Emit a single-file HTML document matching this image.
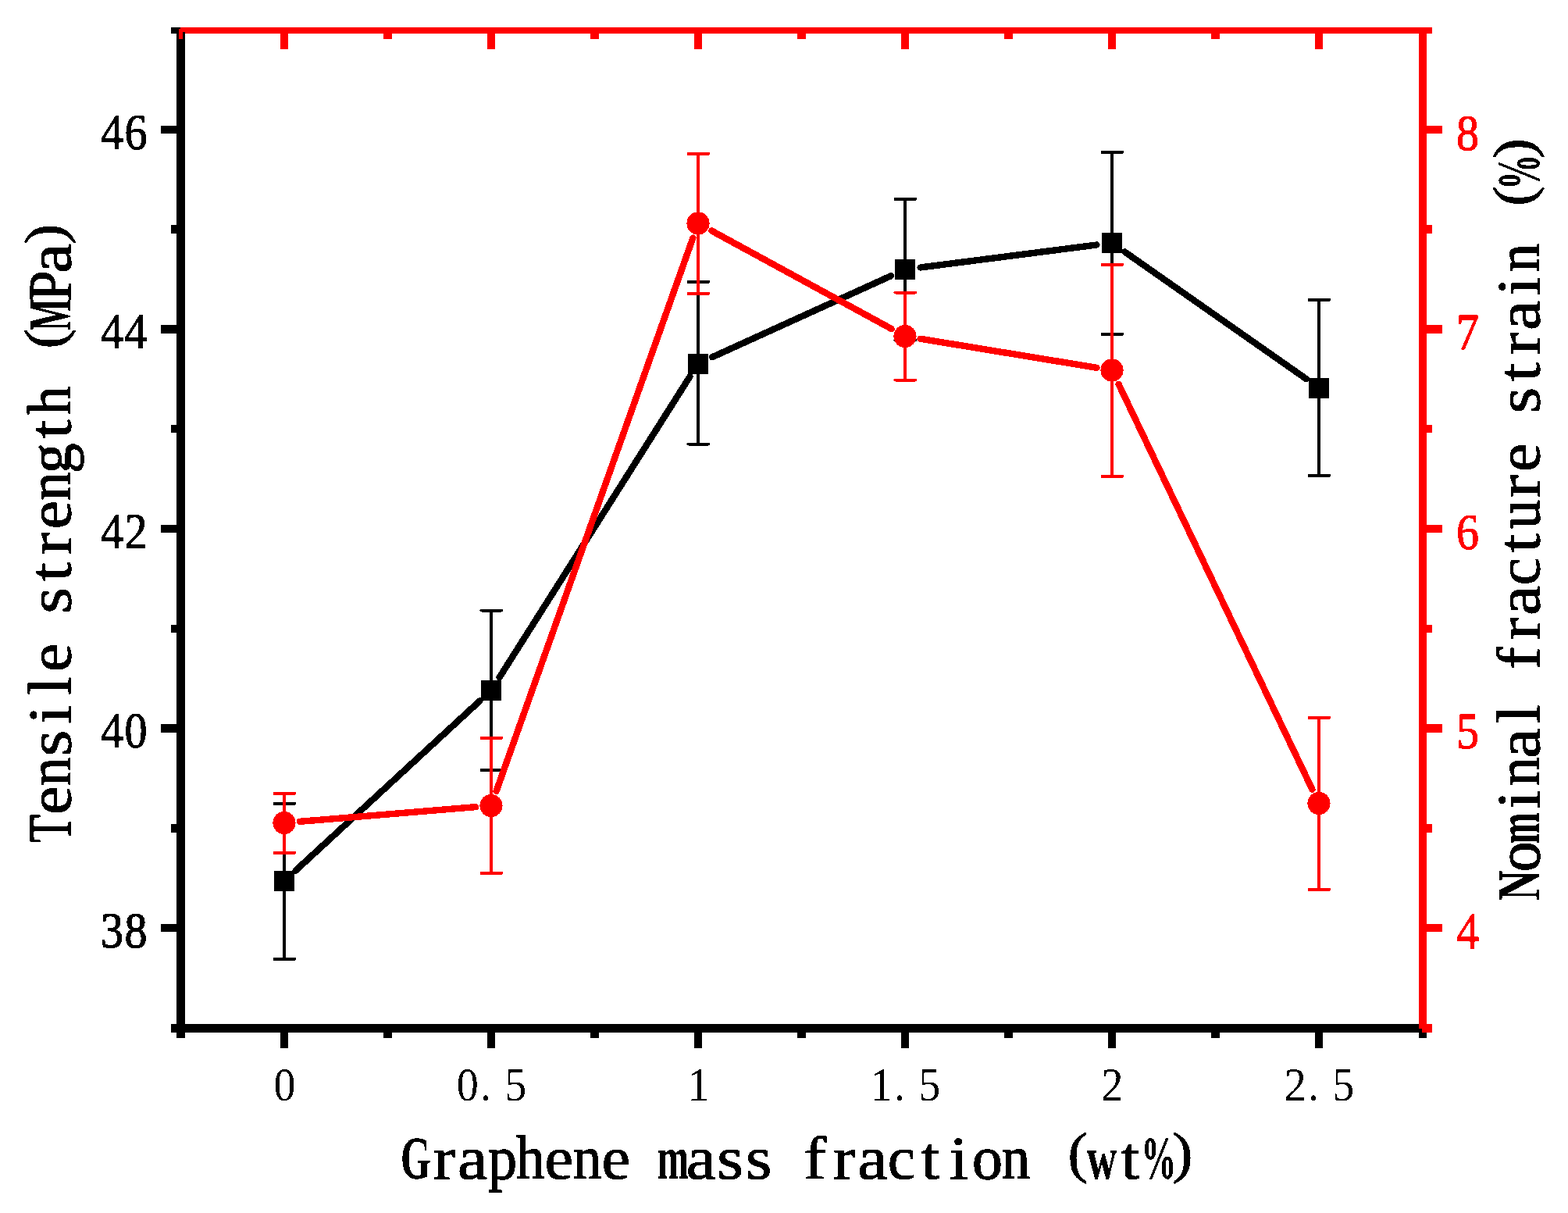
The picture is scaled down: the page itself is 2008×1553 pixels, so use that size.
<!DOCTYPE html>
<html lang="en">
<head>
<meta charset="utf-8">
<title>Tensile strength (MPa) and Nominal fracture strain (%) vs Graphene mass fraction (wt%)</title>
<style>
html,body{margin:0;padding:0;background:#fff;}
body{width:2008px;height:1553px;overflow:hidden;}
svg{display:block;}
text{white-space:pre;font-kerning:none;}
</style>
</head>
<body>
<svg width="2008" height="1553" viewBox="0 0 2008 1553">
<defs>
<filter id="crisp" x="-5%" y="-5%" width="110%" height="110%" color-interpolation-filters="sRGB">
<feComponentTransfer><feFuncA type="discrete" tableValues="0 1"/></feComponentTransfer>
</filter>
</defs>
<rect x="0" y="0" width="2008" height="1553" fill="#ffffff"/>
<g id="tensile-strength" fill="#000000" stroke="none" shape-rendering="crispEdges">
<rect x="362" y="1029" width="4" height="199"/>
<rect x="349.5" y="1027" width="29.5" height="4" rx="2" ry="2"/>
<rect x="349.5" y="1226" width="29.5" height="4" rx="2" ry="2"/>
<rect x="627" y="781.5" width="4" height="204.5"/>
<rect x="614.5" y="779.5" width="29.5" height="4" rx="2" ry="2"/>
<rect x="614.5" y="984" width="29.5" height="4" rx="2" ry="2"/>
<rect x="892" y="361" width="4" height="207.5"/>
<rect x="879.5" y="359" width="29.5" height="4" rx="2" ry="2"/>
<rect x="879.5" y="566.5" width="29.5" height="4" rx="2" ry="2"/>
<rect x="1157" y="255" width="4" height="180.5"/>
<rect x="1144.5" y="253" width="29.5" height="4" rx="2" ry="2"/>
<rect x="1144.5" y="433.5" width="29.5" height="4" rx="2" ry="2"/>
<rect x="1422" y="195" width="4" height="233"/>
<rect x="1409.5" y="193" width="29.5" height="4" rx="2" ry="2"/>
<rect x="1409.5" y="426" width="29.5" height="4" rx="2" ry="2"/>
<rect x="1687" y="384" width="4" height="225"/>
<rect x="1674.5" y="382" width="29.5" height="4" rx="2" ry="2"/>
<rect x="1674.5" y="607" width="29.5" height="4" rx="2" ry="2"/>
<line x1="378.57" y1="1114.59" x2="614.43" y2="897.41" stroke="#000000" stroke-width="8.4" stroke-linecap="round"/>
<line x1="639.59" y1="867.27" x2="883.41" y2="482.23" stroke="#000000" stroke-width="8.4" stroke-linecap="round"/>
<line x1="912.02" y1="457.30" x2="1140.98" y2="353.20" stroke="#000000" stroke-width="8.4" stroke-linecap="round"/>
<line x1="1178.64" y1="342.48" x2="1404.36" y2="313.52" stroke="#000000" stroke-width="8.4" stroke-linecap="round"/>
<line x1="1440.22" y1="322.35" x2="1672.78" y2="485.15" stroke="#000000" stroke-width="8.4" stroke-linecap="round"/>
<rect x="351" y="1115" width="26" height="26"/>
<rect x="616" y="871" width="26" height="26"/>
<rect x="881" y="452.5" width="26" height="26"/>
<rect x="1146" y="332" width="26" height="26"/>
<rect x="1411" y="298" width="26" height="26"/>
<rect x="1676" y="483.5" width="26" height="26"/>
</g>
<g id="fracture-strain" fill="#ff0000" stroke="none" shape-rendering="crispEdges">
<rect x="362" y="1016" width="4" height="76"/>
<rect x="349.5" y="1014" width="29.5" height="4" rx="2" ry="2"/>
<rect x="349.5" y="1090" width="29.5" height="4" rx="2" ry="2"/>
<rect x="627" y="945" width="4" height="173"/>
<rect x="614.5" y="943" width="29.5" height="4" rx="2" ry="2"/>
<rect x="614.5" y="1116" width="29.5" height="4" rx="2" ry="2"/>
<rect x="892" y="197" width="4" height="179"/>
<rect x="879.5" y="195" width="29.5" height="4" rx="2" ry="2"/>
<rect x="879.5" y="374" width="29.5" height="4" rx="2" ry="2"/>
<rect x="1157" y="374.5" width="4" height="112"/>
<rect x="1144.5" y="372.5" width="29.5" height="4" rx="2" ry="2"/>
<rect x="1144.5" y="484.5" width="29.5" height="4" rx="2" ry="2"/>
<rect x="1422" y="339" width="4" height="271"/>
<rect x="1409.5" y="337" width="29.5" height="4" rx="2" ry="2"/>
<rect x="1409.5" y="608" width="29.5" height="4" rx="2" ry="2"/>
<rect x="1687" y="919" width="4" height="220"/>
<rect x="1674.5" y="917" width="29.5" height="4" rx="2" ry="2"/>
<rect x="1674.5" y="1137" width="29.5" height="4" rx="2" ry="2"/>
<line x1="383.73" y1="1051.86" x2="609.27" y2="1033.14" stroke="#ff0000" stroke-width="8.4" stroke-linecap="round"/>
<line x1="635.63" y1="1012.84" x2="887.37" y2="304.66" stroke="#ff0000" stroke-width="8.4" stroke-linecap="round"/>
<line x1="911.38" y1="295.48" x2="1141.62" y2="421.02" stroke="#ff0000" stroke-width="8.4" stroke-linecap="round"/>
<line x1="1178.54" y1="433.71" x2="1404.46" y2="470.79" stroke="#ff0000" stroke-width="8.4" stroke-linecap="round"/>
<line x1="1432.54" y1="491.86" x2="1680.46" y2="1010.64" stroke="#ff0000" stroke-width="8.4" stroke-linecap="round"/>
<circle cx="364" cy="1053.5" r="14.6"/>
<circle cx="629" cy="1031.5" r="14.6"/>
<circle cx="894" cy="286" r="14.6"/>
<circle cx="1159" cy="430.5" r="14.6"/>
<circle cx="1424" cy="474" r="14.6"/>
<circle cx="1689" cy="1028.5" r="14.6"/>
</g>
<g id="axes-black" fill="#000000" shape-rendering="crispEdges">
<rect x="226" y="1311" width="1601" height="11"/>
<rect x="226" y="35" width="11" height="1294"/>
<rect x="206" y="161" width="21" height="10"/>
<rect x="206" y="416" width="21" height="11"/>
<rect x="206" y="672" width="21" height="10"/>
<rect x="206" y="927" width="21" height="11"/>
<rect x="206" y="1183" width="21" height="10"/>
<rect x="219" y="288" width="8" height="11"/>
<rect x="219" y="544" width="8" height="10"/>
<rect x="219" y="800" width="8" height="10"/>
<rect x="219" y="1055" width="8" height="11"/>
<rect x="219" y="35" width="12" height="8"/>
<rect x="219" y="1311" width="8" height="11"/>
<rect x="359" y="1321" width="10" height="21"/>
<rect x="624" y="1321" width="10" height="21"/>
<rect x="889" y="1321" width="10" height="21"/>
<rect x="1154" y="1321" width="10" height="21"/>
<rect x="1419" y="1321" width="10" height="21"/>
<rect x="1684" y="1321" width="10" height="21"/>
<rect x="491" y="1321" width="11" height="8"/>
<rect x="756" y="1321" width="11" height="8"/>
<rect x="1021" y="1321" width="11" height="8"/>
<rect x="1286" y="1321" width="11" height="8"/>
<rect x="1551" y="1321" width="11" height="8"/>
<rect x="1817" y="1321" width="10" height="8"/>
</g>
<g id="axes-red" fill="#ff0000" shape-rendering="crispEdges">
<rect x="229" y="35" width="1605" height="8"/>
<rect x="229" y="37" width="5" height="13"/>
<rect x="359" y="42" width="10" height="21"/>
<rect x="624" y="42" width="10" height="21"/>
<rect x="889" y="42" width="10" height="21"/>
<rect x="1154" y="42" width="10" height="21"/>
<rect x="1419" y="42" width="10" height="21"/>
<rect x="1684" y="42" width="10" height="21"/>
<rect x="491" y="42" width="11" height="8"/>
<rect x="756" y="42" width="11" height="8"/>
<rect x="1021" y="42" width="11" height="8"/>
<rect x="1286" y="42" width="11" height="8"/>
<rect x="1551" y="42" width="11" height="8"/>
<rect x="1817" y="35" width="10" height="1287"/>
<rect x="1826" y="161" width="21" height="10"/>
<rect x="1826" y="416" width="21" height="11"/>
<rect x="1826" y="672" width="21" height="10"/>
<rect x="1826" y="927" width="21" height="11"/>
<rect x="1826" y="1183" width="21" height="10"/>
<rect x="1826" y="288" width="8" height="11"/>
<rect x="1826" y="544" width="8" height="10"/>
<rect x="1826" y="800" width="8" height="10"/>
<rect x="1826" y="1055" width="8" height="11"/>
<rect x="1826" y="1311" width="8" height="11"/>
</g>
<g id="axis-joins" fill="#000000" shape-rendering="crispEdges">
<rect x="229" y="35" width="2" height="2"/>
<rect x="234" y="41" width="3" height="2"/>
<rect x="1817" y="1317" width="4" height="5"/>
</g>
<g id="labels" filter="url(#crisp)">
<g id="ticks-left" font-family="'Liberation Serif', serif" font-size="65" text-anchor="middle" fill="#000000" stroke="#000000" stroke-width="1.2" stroke-linejoin="round">
<text transform="translate(158.8,190.9) scale(0.895,1)" x="-17.1 17.1" y="0" font-size="64.8">46</text>
<text transform="translate(158.8,445.9) scale(0.895,1)" x="-17.1 17.1" y="0" font-size="64.8">44</text>
<text transform="translate(158.8,701.9) scale(0.895,1)" x="-17.1 17.1" y="0" font-size="64.8">42</text>
<text transform="translate(158.8,956.9) scale(0.895,1)" x="-17.1 17.1" y="0" font-size="64.8">40</text>
<text transform="translate(158.8,1212.9) scale(0.895,1)" x="-17.1 17.1" y="0" font-size="64.8">38</text>
</g>
<g id="ticks-right" font-family="'Liberation Serif', serif" font-size="65" text-anchor="middle" fill="#ff0000" stroke="#ff0000" stroke-width="1.2" stroke-linejoin="round">
<text transform="translate(1879.4,191.6) scale(0.895,1)" x="0.0" y="0" font-size="64.8">8</text>
<text transform="translate(1879.4,446.6) scale(0.895,1)" x="0.0" y="0" font-size="64.8">7</text>
<text transform="translate(1879.4,702.6) scale(0.895,1)" x="0.0" y="0" font-size="64.8">6</text>
<text transform="translate(1879.4,957.6) scale(0.895,1)" x="0.0" y="0" font-size="64.8">5</text>
<text transform="translate(1879.4,1213.6) scale(0.895,1)" x="0.0" y="0" font-size="64.8">4</text>
</g>
<g id="ticks-bottom" font-family="'Liberation Serif', serif" font-size="61" text-anchor="middle" fill="#000000">
<text transform="translate(364.5,1409.2) scale(0.92,1)" x="0.0" y="0">0</text>
<text transform="translate(629.5,1409.2) scale(0.92,1)" x="-33.4 -8.2 33.4" y="0">0.5</text>
<text transform="translate(894.5,1409.2) scale(0.92,1)" x="0.0" y="0">1</text>
<text transform="translate(1159.5,1409.2) scale(0.92,1)" x="-33.4 -8.2 33.4" y="0">1.5</text>
<text transform="translate(1424.5,1409.2) scale(0.92,1)" x="0.0" y="0">2</text>
<text transform="translate(1689.5,1409.2) scale(0.92,1)" x="-33.4 -8.2 33.4" y="0">2.5</text>
</g>
<text id="x-title" aria-label="Graphene mass fraction (wt%)" transform="translate(514.2,1508.8)" y="0" font-family="'Liberation Serif', serif" font-size="77.5" fill="#000000" stroke="#000000" stroke-width="1.3" stroke-linejoin="round" xml:space="preserve"><tspan x="-1.15" font-weight="bold" stroke-width="0.3" textLength="38.80" lengthAdjust="spacingAndGlyphs">G</tspan><tspan x="40.43" stroke-width="1" textLength="28.91" lengthAdjust="spacingAndGlyphs">r</tspan><tspan x="71.92" stroke-width="1" textLength="38.20" lengthAdjust="spacingAndGlyphs">a</tspan><tspan x="110.83" textLength="37.09" lengthAdjust="spacingAndGlyphs">p</tspan><tspan x="146.89" textLength="36.68" lengthAdjust="spacingAndGlyphs">h</tspan><tspan x="183.22" stroke-width="1" textLength="36.58" lengthAdjust="spacingAndGlyphs">e</tspan><tspan x="219.80" textLength="36.37" lengthAdjust="spacingAndGlyphs">n</tspan><tspan x="256.38" stroke-width="1" textLength="36.58" lengthAdjust="spacingAndGlyphs">e</tspan> <tspan x="327.72" font-weight="bold" stroke-width="0.3" textLength="40.12" lengthAdjust="spacingAndGlyphs">m</tspan><tspan x="364.56" stroke-width="1" textLength="38.20" lengthAdjust="spacingAndGlyphs">a</tspan><tspan x="404.07" stroke-width="1" textLength="33.78" lengthAdjust="spacingAndGlyphs">s</tspan><tspan x="440.65" stroke-width="1" textLength="33.78" lengthAdjust="spacingAndGlyphs">s</tspan> <tspan x="515.12" stroke-width="1" textLength="28.91" lengthAdjust="spacingAndGlyphs">f</tspan><tspan x="552.55" stroke-width="1" textLength="28.91" lengthAdjust="spacingAndGlyphs">r</tspan><tspan x="584.04" stroke-width="1" textLength="38.20" lengthAdjust="spacingAndGlyphs">a</tspan><tspan x="622.60" stroke-width="1" textLength="35.51" lengthAdjust="spacingAndGlyphs">c</tspan><tspan x="665.00" stroke-width="1" textLength="24.12" lengthAdjust="spacingAndGlyphs">t</tspan><tspan x="701.67" stroke-width="1" textLength="24.12" lengthAdjust="spacingAndGlyphs">i</tspan><tspan x="730.92" textLength="38.93" lengthAdjust="spacingAndGlyphs">o</tspan><tspan x="768.50" textLength="36.37" lengthAdjust="spacingAndGlyphs">n</tspan> <tspan x="853.24" y="-8.6" font-size="72" stroke-width="1" textLength="25.28" lengthAdjust="spacingAndGlyphs">(</tspan><tspan x="877.55" y="0" font-weight="bold" stroke-width="0.3" textLength="38.44" lengthAdjust="spacingAndGlyphs">w</tspan><tspan x="921.06" stroke-width="1" textLength="24.12" lengthAdjust="spacingAndGlyphs">t</tspan><tspan x="947.28" font-weight="bold" stroke-width="0.3" textLength="44.79" lengthAdjust="spacingAndGlyphs">%</tspan><tspan x="987.24" y="-8.6" font-size="72" stroke-width="1" textLength="25.93" lengthAdjust="spacingAndGlyphs">)</tspan></text>
<text id="y-title-left" aria-label="Tensile strength (MPa)" transform="translate(90.3,1079.6) rotate(-90)" y="0" font-family="'Liberation Serif', serif" font-size="77.5" fill="#000000" stroke="#000000" stroke-width="1.3" stroke-linejoin="round" xml:space="preserve"><tspan x="0.71" textLength="36.05" lengthAdjust="spacingAndGlyphs">T</tspan><tspan x="36.86" stroke-width="1" textLength="36.58" lengthAdjust="spacingAndGlyphs">e</tspan><tspan x="73.41" textLength="36.37" lengthAdjust="spacingAndGlyphs">n</tspan><tspan x="111.32" stroke-width="1" textLength="33.78" lengthAdjust="spacingAndGlyphs">s</tspan><tspan x="152.83" stroke-width="1" textLength="24.12" lengthAdjust="spacingAndGlyphs">i</tspan><tspan x="189.47" stroke-width="1" textLength="24.12" lengthAdjust="spacingAndGlyphs">l</tspan><tspan x="219.61" stroke-width="1" textLength="36.58" lengthAdjust="spacingAndGlyphs">e</tspan> <tspan x="294.07" stroke-width="1" textLength="33.78" lengthAdjust="spacingAndGlyphs">s</tspan><tspan x="335.50" stroke-width="1" textLength="24.12" lengthAdjust="spacingAndGlyphs">t</tspan><tspan x="369.34" stroke-width="1" textLength="28.91" lengthAdjust="spacingAndGlyphs">r</tspan><tspan x="402.36" stroke-width="1" textLength="36.58" lengthAdjust="spacingAndGlyphs">e</tspan><tspan x="438.91" textLength="36.37" lengthAdjust="spacingAndGlyphs">n</tspan><tspan x="473.59" textLength="38.81" lengthAdjust="spacingAndGlyphs">g</tspan><tspan x="518.25" stroke-width="1" textLength="24.12" lengthAdjust="spacingAndGlyphs">t</tspan><tspan x="548.81" textLength="36.68" lengthAdjust="spacingAndGlyphs">h</tspan> <tspan x="633.24" y="-8.6" font-size="72" stroke-width="1" textLength="25.28" lengthAdjust="spacingAndGlyphs">(</tspan><tspan x="656.43" y="0" font-weight="bold" stroke-width="0.3" textLength="40.99" lengthAdjust="spacingAndGlyphs">M</tspan><tspan x="694.21" textLength="38.80" lengthAdjust="spacingAndGlyphs">P</tspan><tspan x="729.75" stroke-width="1" textLength="38.20" lengthAdjust="spacingAndGlyphs">a</tspan><tspan x="767.12" y="-8.6" font-size="72" stroke-width="1" textLength="25.93" lengthAdjust="spacingAndGlyphs">)</tspan></text>
<text id="y-title-right" aria-label="Nominal fracture strain (%)" transform="translate(1971.2,1152) rotate(-90)" y="0" font-family="'Liberation Serif', serif" font-size="77.5" fill="#000000" stroke="#000000" stroke-width="1.3" stroke-linejoin="round" xml:space="preserve"><tspan x="-0.76" font-weight="bold" stroke-width="0.3" textLength="38.73" lengthAdjust="spacingAndGlyphs">N</tspan><tspan x="35.81" textLength="38.93" lengthAdjust="spacingAndGlyphs">o</tspan><tspan x="71.51" font-weight="bold" stroke-width="0.3" textLength="40.12" lengthAdjust="spacingAndGlyphs">m</tspan><tspan x="116.18" stroke-width="1" textLength="24.12" lengthAdjust="spacingAndGlyphs">i</tspan><tspan x="146.37" textLength="36.37" lengthAdjust="spacingAndGlyphs">n</tspan><tspan x="181.33" stroke-width="1" textLength="38.20" lengthAdjust="spacingAndGlyphs">a</tspan><tspan x="225.82" stroke-width="1" textLength="24.12" lengthAdjust="spacingAndGlyphs">l</tspan> <tspan x="295.13" stroke-width="1" textLength="28.91" lengthAdjust="spacingAndGlyphs">f</tspan><tspan x="332.50" stroke-width="1" textLength="28.91" lengthAdjust="spacingAndGlyphs">r</tspan><tspan x="363.93" stroke-width="1" textLength="38.20" lengthAdjust="spacingAndGlyphs">a</tspan><tspan x="402.43" stroke-width="1" textLength="35.51" lengthAdjust="spacingAndGlyphs">c</tspan><tspan x="444.77" stroke-width="1" textLength="24.12" lengthAdjust="spacingAndGlyphs">t</tspan><tspan x="475.04" textLength="37.26" lengthAdjust="spacingAndGlyphs">u</tspan><tspan x="515.10" stroke-width="1" textLength="28.91" lengthAdjust="spacingAndGlyphs">r</tspan><tspan x="548.09" stroke-width="1" textLength="36.58" lengthAdjust="spacingAndGlyphs">e</tspan> <tspan x="622.50" stroke-width="1" textLength="33.78" lengthAdjust="spacingAndGlyphs">s</tspan><tspan x="663.89" stroke-width="1" textLength="24.12" lengthAdjust="spacingAndGlyphs">t</tspan><tspan x="697.70" stroke-width="1" textLength="28.91" lengthAdjust="spacingAndGlyphs">r</tspan><tspan x="729.13" stroke-width="1" textLength="38.20" lengthAdjust="spacingAndGlyphs">a</tspan><tspan x="773.54" stroke-width="1" textLength="24.12" lengthAdjust="spacingAndGlyphs">i</tspan><tspan x="803.73" textLength="36.37" lengthAdjust="spacingAndGlyphs">n</tspan> <tspan x="888.35" y="-8.6" font-size="72" stroke-width="1" textLength="25.28" lengthAdjust="spacingAndGlyphs">(</tspan><tspan x="909.17" y="0" font-weight="bold" stroke-width="0.3" textLength="44.79" lengthAdjust="spacingAndGlyphs">%</tspan><tspan x="949.07" y="-8.6" font-size="72" stroke-width="1" textLength="25.93" lengthAdjust="spacingAndGlyphs">)</tspan></text>
</g>
</svg>
</body>
</html>
